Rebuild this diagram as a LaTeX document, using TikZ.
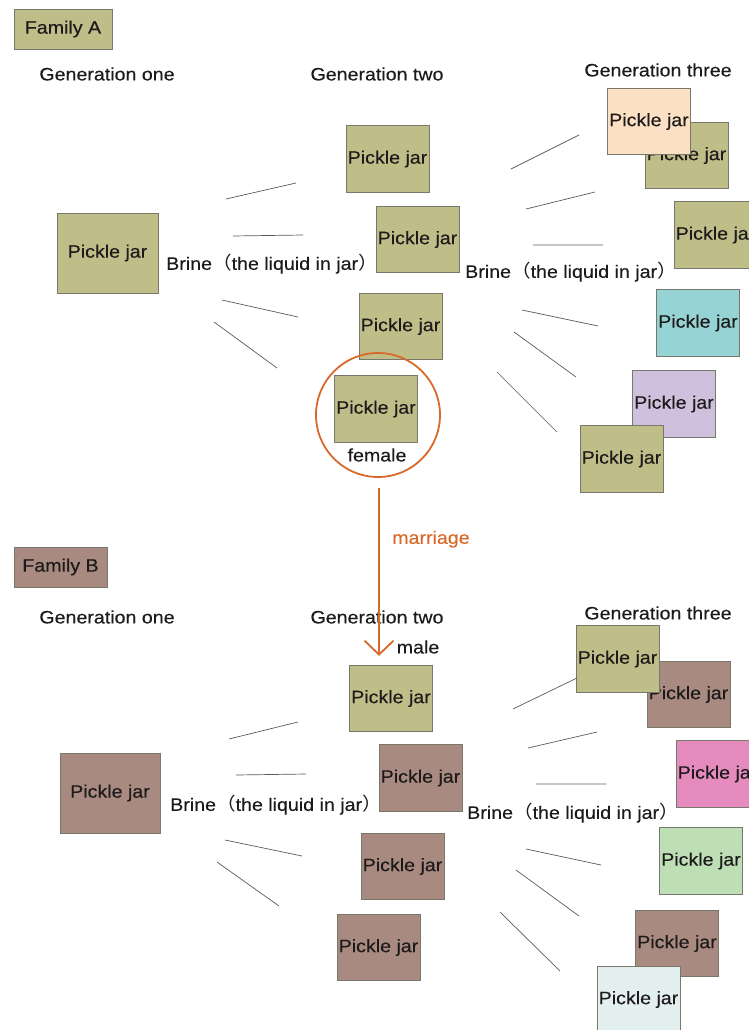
\documentclass[tikz,border=0pt]{standalone}
\usepackage{fontspec}
\setmainfont{Liberation Sans}[FakeStretch=1.09, FakeBold=0.25]
\newfontfamily\cjk{Noto Sans CJK SC}[FakeStretch=1.09]
\usetikzlibrary{arrows.meta,calc}
\usepackage{xcolor}

\definecolor{JarOlive}{HTML}{C0BE88}
\definecolor{JarBrown}{HTML}{A88A80}
\definecolor{JarPeach}{HTML}{FCE0C3}
\definecolor{JarTeal}{HTML}{96D3D5}
\definecolor{JarLilac}{HTML}{CFC1DD}
\definecolor{JarPink}{HTML}{E68BBE}
\definecolor{JarMint}{HTML}{BEDEB6}
\definecolor{JarIce}{HTML}{E4EFEF}
\definecolor{MarryOrange}{HTML}{D9692B}
\definecolor{TextGray}{HTML}{1C1A1A}
\definecolor{EdgeGray}{HTML}{77776A}
\definecolor{LineGray}{HTML}{5A5A5A}

\newcommand{\brinetext}{Brine{\cjk （}the liquid in jar{\cjk ）}}

\begin{document}
\begin{tikzpicture}[
        %Environment config
        x=1pt, y=-1pt,
        font=\fontsize{18pt}{21pt}\selectfont,
        text=TextGray,
        %Environment styles
        JarCfg/.style={
            draw=EdgeGray,
            line width=0.8pt,
            fill=#1,
            minimum width=83pt,
            minimum height=66.5pt,
            inner sep=0pt
        },
        BigJarCfg/.style={JarCfg=#1, minimum width=101pt, minimum height=80pt},
        FamCfg/.style={JarCfg=#1, minimum height=40pt},
        LabelCfg/.style={inner sep=0pt},
        BrineLine/.style={draw=LineGray, line width=0.7pt},
        MarryCfg/.style={
            draw=MarryOrange,
            line width=1.8pt,
            -{Straight Barb[length=14pt,width=29pt]}
        }
    ]
    \clip (0,0) rectangle (749,1030);

    %Family A
    \path
        (63,29) node[FamCfg=JarOlive, minimum width=98pt](FamA){Family A}
        (107,74) node[LabelCfg](GenA1){Generation one}
        (377,74) node[LabelCfg](GenA2){Generation two}
        (658,70) node[LabelCfg](GenA3){Generation three};

    \path
        (107.5,253) node[BigJarCfg=JarOlive](A1){Pickle jar}
        (166,264) node[LabelCfg, anchor=west](BrA1){\brinetext}
        (387.5,159) node[JarCfg=JarOlive](A2a){Pickle jar}
        (417.5,239.5) node[JarCfg=JarOlive](A2b){Pickle jar}
        (400.5,326.5) node[JarCfg=JarOlive](A2c){Pickle jar}
        (376,409) node[JarCfg=JarOlive](A2d){Pickle jar}
        (377,455) node[LabelCfg](Fem){female}
        (378,415) node[circle, draw=MarryOrange, line width=1.8pt,
            minimum size=124pt, inner sep=0pt](AFem){}
        (465,272) node[LabelCfg, anchor=west](BrA2){\brinetext}
        (686.5,155.5) node[JarCfg=JarOlive](A3b){Pickle jar}
        (649,121.5) node[JarCfg=JarPeach](A3a){Pickle jar}
        (715.5,235) node[JarCfg=JarOlive](A3c){Pickle jar}
        (698,323) node[JarCfg=JarTeal](A3d){Pickle jar}
        (674,404) node[JarCfg=JarLilac](A3e){Pickle jar}
        (621.5,459) node[JarCfg=JarOlive](A3f){Pickle jar};

    \draw[BrineLine]
        (226,199) -- (296,183)
        (233,236) -- (303,235)
        (222,300) -- (298,317)
        (214,322) -- (277,368)
        (511,169) -- (579,135)
        (526,209) -- (595,192)
        (533,245) -- (603,245)
        (522,310) -- (598,326)
        (514,332) -- (576,377)
        (497,372) -- (557,432);

    %Family B
    \path
        (60.5,567) node[FamCfg=JarBrown, minimum width=93pt](FamB){Family B}
        (107,617) node[LabelCfg](GenB1){Generation one}
        (377,617) node[LabelCfg](GenB2){Generation two}
        (658,613) node[LabelCfg](GenB3){Generation three};

    \path
        (110,793) node[BigJarCfg=JarBrown, minimum width=100pt](B1){Pickle jar}
        (170,805) node[LabelCfg, anchor=west](BrB1){\brinetext}
        (391,698.5) node[JarCfg=JarOlive](B2a){Pickle jar}
        (420.5,778) node[JarCfg=JarBrown](B2b){Pickle jar}
        (402.5,866.5) node[JarCfg=JarBrown](B2c){Pickle jar}
        (378.5,947.5) node[JarCfg=JarBrown](B2d){Pickle jar}
        (418,647) node[LabelCfg](Male){male}
        (467,813) node[LabelCfg, anchor=west](BrB2){\brinetext}
        (688.5,694.5) node[JarCfg=JarBrown](B3b){Pickle jar}
        (617.5,659) node[JarCfg=JarOlive](B3a){Pickle jar}
        (717.5,774) node[JarCfg=JarPink](B3c){Pickle jar}
        (701,861) node[JarCfg=JarMint](B3d){Pickle jar}
        (677,943.5) node[JarCfg=JarBrown](B3e){Pickle jar}
        (638.5,999.5) node[JarCfg=JarIce](B3f){Pickle jar};

    \draw[BrineLine]
        (229,739) -- (298,722)
        (236,775) -- (306,774)
        (225,840) -- (302,856)
        (217,862) -- (279,906)
        (513,709) -- (577,678)
        (528,748) -- (597,732)
        (536,784) -- (606,784)
        (526,849) -- (601,865)
        (516,870) -- (579,916)
        (500,912) -- (560,971);

    %marriage
    \draw[MarryCfg, shorten >=9pt]
        ([xshift=1pt, yshift=-10pt]AFem.south) -- ([xshift=1pt]AFem.south |- B2a.north)
        node[pos=0.29, anchor=west, xshift=9pt, text=MarryOrange]{marriage};

\end{tikzpicture}
\end{document}
